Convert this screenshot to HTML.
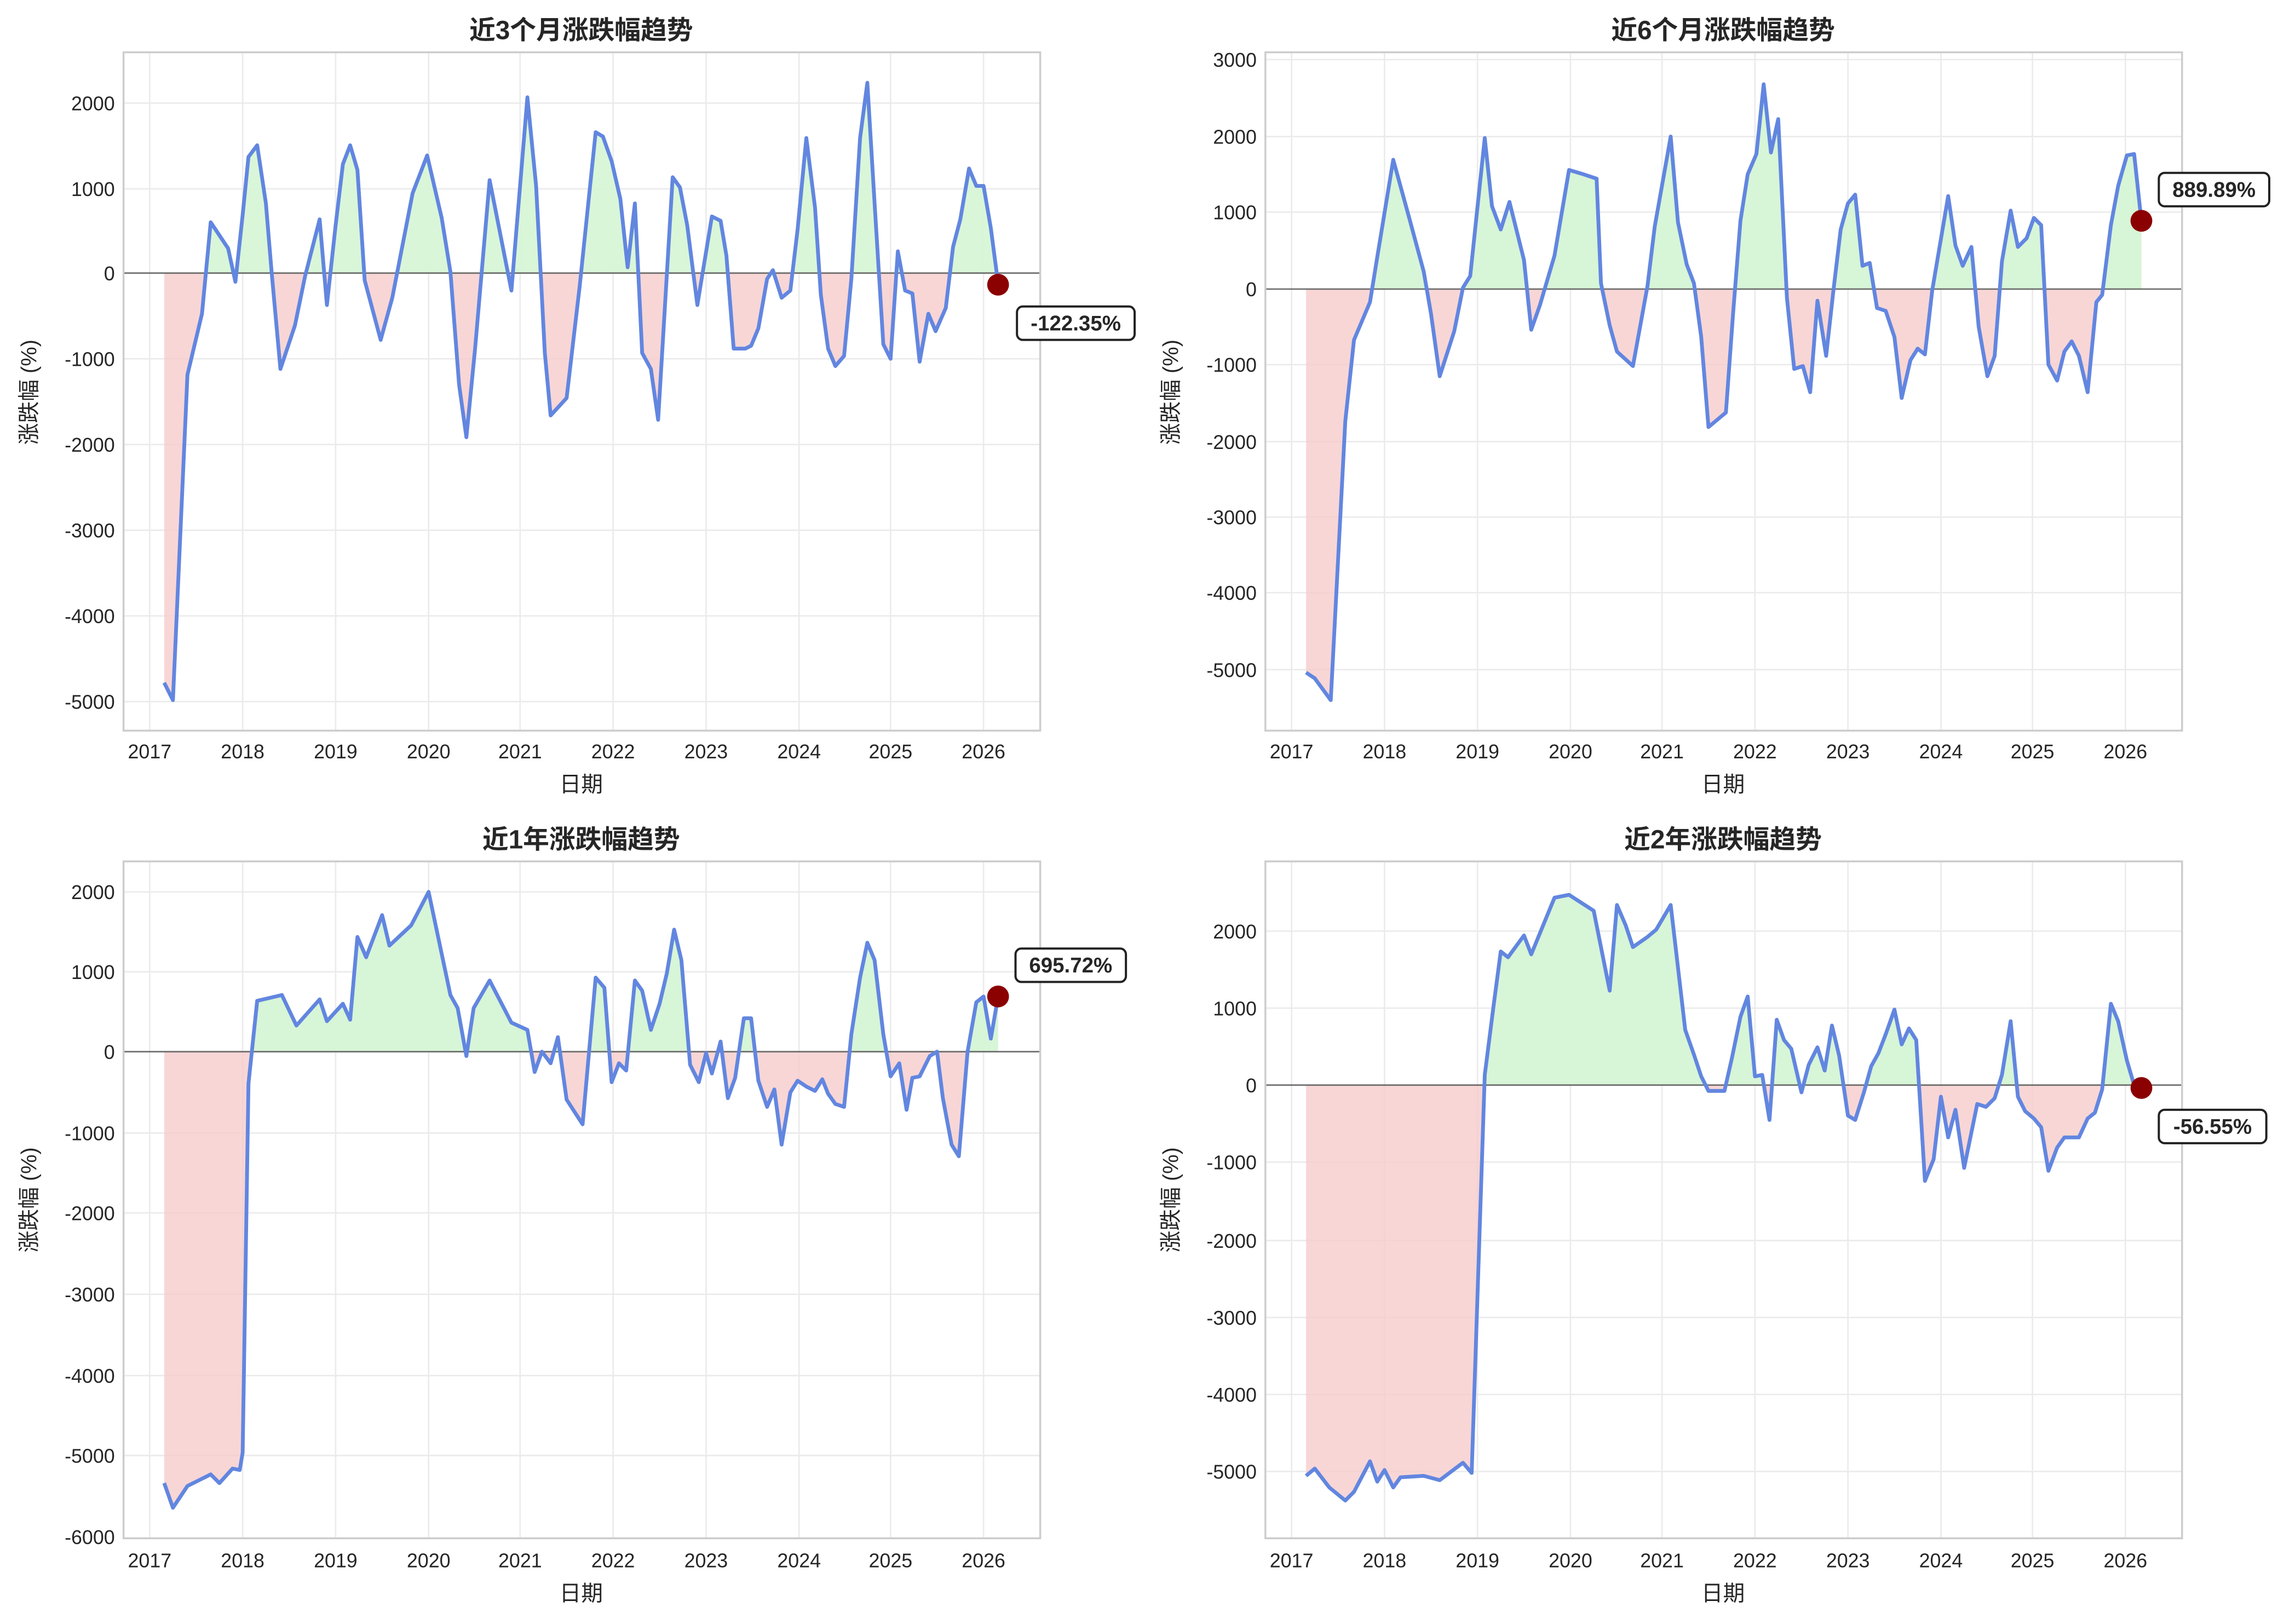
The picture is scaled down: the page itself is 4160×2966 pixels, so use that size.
<!DOCTYPE html>
<html><head><meta charset="utf-8"><style>
html,body{margin:0;padding:0;background:#fff;}
svg{display:block}
text{font-family:"Liberation Sans","Noto Sans CJK SC",sans-serif;fill:#262626}
.t{font-size:13.5px}
.ti{font-size:18px;font-weight:bold}
.lab{font-size:15px}
.g{stroke:#ebebeb;stroke-width:1}
.box{fill:none;stroke:#cccccc;stroke-width:1.3}
.ln{fill:none;stroke:#6286e0;stroke-width:2.6;stroke-linejoin:round}
.z{stroke:#555;stroke-width:1;opacity:.85}
.ann{font-size:14.5px;font-weight:bold}
</style></head><body>
<svg width="4160" height="2966" viewBox="0 0 1568 1118" xmlns="http://www.w3.org/2000/svg">
<rect width="1568" height="1118" fill="#fff"/>
<defs>
<clipPath id="a1"><rect x="85" y="36" width="631" height="152"/></clipPath>
<clipPath id="b1"><rect x="85" y="188" width="631" height="315"/></clipPath>
<clipPath id="a2"><rect x="871" y="36" width="631" height="163"/></clipPath>
<clipPath id="b2"><rect x="871" y="199" width="631" height="304"/></clipPath>
<clipPath id="a3"><rect x="85" y="593" width="631" height="131"/></clipPath>
<clipPath id="b3"><rect x="85" y="724" width="631" height="335"/></clipPath>
<clipPath id="a4"><rect x="871" y="593" width="631" height="154"/></clipPath>
<clipPath id="b4"><rect x="871" y="747" width="631" height="312"/></clipPath>
</defs>

<!-- ================= Panel 1 ================= -->
<g>
<g class="g">
<line x1="103" y1="36" x2="103" y2="503"/><line x1="167" y1="36" x2="167" y2="503"/><line x1="231" y1="36" x2="231" y2="503"/><line x1="295" y1="36" x2="295" y2="503"/><line x1="358" y1="36" x2="358" y2="503"/><line x1="422" y1="36" x2="422" y2="503"/><line x1="486" y1="36" x2="486" y2="503"/><line x1="550" y1="36" x2="550" y2="503"/><line x1="613" y1="36" x2="613" y2="503"/><line x1="677" y1="36" x2="677" y2="503"/>
<line x1="85" y1="71" x2="716" y2="71"/><line x1="85" y1="130" x2="716" y2="130"/><line x1="85" y1="247" x2="716" y2="247"/><line x1="85" y1="306" x2="716" y2="306"/><line x1="85" y1="365" x2="716" y2="365"/><line x1="85" y1="424" x2="716" y2="424"/><line x1="85" y1="483" x2="716" y2="483"/>
</g>
<polygon fill="#d7f5d7" opacity=".95" clip-path="url(#a1)" points="113,470 119,482 129,258 139,216 145,153 157,171 162,194 167,148 171,108 177,100 183,140 187,188 193,254 203,224 210,190 220,151 225,210 231,155 236,113 241,100 246,117 251,193 262,234 270,205 284,133 294,107 304,150 310,187 316,265 321,301 327,240 337,124 352,200 363,67 369,128 375,243 379,286 390,274 399,197 410,91 415,94 421,111 427,137 432,184 437,140 442,243 448,254 453,289 463,122 468,129 473,155 480,210 490,149 496,152 500,176 505,240 513,240 517,238 522,226 528,192 532,186 538,205 544,200 549,158 555,95 561,143 565,203 570,240 575,252 581,245 586,192 592,95 597,57 602,140 608,237 613,247 618,173 623,200 628,202 633,249 639,216 644,228 651,212 656,170 661,151 667,116 672,128 677,128 682,157 687,195 687,188 113,188"/>
<polygon fill="#f6cccc" opacity=".8" clip-path="url(#b1)" points="113,470 119,482 129,258 139,216 145,153 157,171 162,194 167,148 171,108 177,100 183,140 187,188 193,254 203,224 210,190 220,151 225,210 231,155 236,113 241,100 246,117 251,193 262,234 270,205 284,133 294,107 304,150 310,187 316,265 321,301 327,240 337,124 352,200 363,67 369,128 375,243 379,286 390,274 399,197 410,91 415,94 421,111 427,137 432,184 437,140 442,243 448,254 453,289 463,122 468,129 473,155 480,210 490,149 496,152 500,176 505,240 513,240 517,238 522,226 528,192 532,186 538,205 544,200 549,158 555,95 561,143 565,203 570,240 575,252 581,245 586,192 592,95 597,57 602,140 608,237 613,247 618,173 623,200 628,202 633,249 639,216 644,228 651,212 656,170 661,151 667,116 672,128 677,128 682,157 687,195 687,188 113,188"/>
<line class="z" x1="85" y1="188" x2="716" y2="188"/>
<polyline class="ln" points="113,470 119,482 129,258 139,216 145,153 157,171 162,194 167,148 171,108 177,100 183,140 187,188 193,254 203,224 210,190 220,151 225,210 231,155 236,113 241,100 246,117 251,193 262,234 270,205 284,133 294,107 304,150 310,187 316,265 321,301 327,240 337,124 352,200 363,67 369,128 375,243 379,286 390,274 399,197 410,91 415,94 421,111 427,137 432,184 437,140 442,243 448,254 453,289 463,122 468,129 473,155 480,210 490,149 496,152 500,176 505,240 513,240 517,238 522,226 528,192 532,186 538,205 544,200 549,158 555,95 561,143 565,203 570,240 575,252 581,245 586,192 592,95 597,57 602,140 608,237 613,247 618,173 623,200 628,202 633,249 639,216 644,228 651,212 656,170 661,151 667,116 672,128 677,128 682,157 687,195"/>
<rect class="box" x="85" y="36" width="631" height="467"/>
<circle cx="687" cy="196" r="7.5" fill="#8b0000"/>
<rect x="700" y="211" width="81" height="23" rx="4" fill="#fff" stroke="#222" stroke-width="1.5"/>
<text class="ann" x="740.5" y="227.5" text-anchor="middle">-122.35%</text>
<g class="t" text-anchor="end">
<text x="79" y="76">2000</text><text x="79" y="135">1000</text><text x="79" y="193">0</text><text x="79" y="252">-1000</text><text x="79" y="311">-2000</text><text x="79" y="370">-3000</text><text x="79" y="429">-4000</text><text x="79" y="488">-5000</text>
</g>
<g class="t" text-anchor="middle">
<text x="103" y="522">2017</text><text x="167" y="522">2018</text><text x="231" y="522">2019</text><text x="295" y="522">2020</text><text x="358" y="522">2021</text><text x="422" y="522">2022</text><text x="486" y="522">2023</text><text x="550" y="522">2024</text><text x="613" y="522">2025</text><text x="677" y="522">2026</text>
</g>
<text class="ti" x="400" y="27" text-anchor="middle">近3个月涨跌幅趋势</text>
<text class="lab" x="400" y="545" text-anchor="middle">日期</text>
<text class="lab" transform="translate(25,270) rotate(-90)" text-anchor="middle">涨跌幅 (%)</text>
</g>

<!-- ================= Panel 2 ================= -->
<g>
<g class="g">
<line x1="889" y1="36" x2="889" y2="503"/><line x1="953" y1="36" x2="953" y2="503"/><line x1="1017" y1="36" x2="1017" y2="503"/><line x1="1081" y1="36" x2="1081" y2="503"/><line x1="1144" y1="36" x2="1144" y2="503"/><line x1="1208" y1="36" x2="1208" y2="503"/><line x1="1272" y1="36" x2="1272" y2="503"/><line x1="1336" y1="36" x2="1336" y2="503"/><line x1="1399" y1="36" x2="1399" y2="503"/><line x1="1463" y1="36" x2="1463" y2="503"/>
<line x1="871" y1="41" x2="1502" y2="41"/><line x1="871" y1="94" x2="1502" y2="94"/><line x1="871" y1="146" x2="1502" y2="146"/><line x1="871" y1="251" x2="1502" y2="251"/><line x1="871" y1="304" x2="1502" y2="304"/><line x1="871" y1="356" x2="1502" y2="356"/><line x1="871" y1="408" x2="1502" y2="408"/><line x1="871" y1="461" x2="1502" y2="461"/>
</g>
<polygon fill="#d7f5d7" clip-path="url(#a2)" points="899,463 905,467 916,482 926,290 932,234 943,208 948,177 959,110 970,150 980,187 985,216 991,259 1001,228 1007,198 1012,190 1022,95 1027,142 1033,158 1039,139 1049,179 1054,227 1060,210 1070,176 1080,117 1090,120 1099,123 1102,195 1108,224 1113,242 1124,252 1134,197 1139,156 1150,94 1155,153 1161,182 1166,195 1171,232 1176,294 1188,284 1193,215 1198,152 1203,120 1209,106 1214,58 1219,105 1224,82 1230,205 1235,254 1241,252 1246,270 1251,207 1257,245 1262,200 1267,158 1272,140 1277,134 1282,183 1287,181 1292,212 1298,214 1304,232 1309,274 1315,248 1320,240 1325,244 1330,200 1341,135 1346,169 1351,183 1357,170 1362,225 1368,259 1373,245 1378,180 1384,145 1389,170 1395,164 1400,150 1405,155 1410,251 1416,262 1421,242 1426,235 1431,245 1437,270 1443,208 1447,203 1453,155 1458,128 1464,107 1469,106 1474,152 1474,199 899,199"/>
<polygon fill="#f6cccc" opacity=".8" clip-path="url(#b2)" points="899,463 905,467 916,482 926,290 932,234 943,208 948,177 959,110 970,150 980,187 985,216 991,259 1001,228 1007,198 1012,190 1022,95 1027,142 1033,158 1039,139 1049,179 1054,227 1060,210 1070,176 1080,117 1090,120 1099,123 1102,195 1108,224 1113,242 1124,252 1134,197 1139,156 1150,94 1155,153 1161,182 1166,195 1171,232 1176,294 1188,284 1193,215 1198,152 1203,120 1209,106 1214,58 1219,105 1224,82 1230,205 1235,254 1241,252 1246,270 1251,207 1257,245 1262,200 1267,158 1272,140 1277,134 1282,183 1287,181 1292,212 1298,214 1304,232 1309,274 1315,248 1320,240 1325,244 1330,200 1341,135 1346,169 1351,183 1357,170 1362,225 1368,259 1373,245 1378,180 1384,145 1389,170 1395,164 1400,150 1405,155 1410,251 1416,262 1421,242 1426,235 1431,245 1437,270 1443,208 1447,203 1453,155 1458,128 1464,107 1469,106 1474,152 1474,199 899,199"/>
<line class="z" x1="871" y1="199" x2="1502" y2="199"/>
<polyline class="ln" points="899,463 905,467 916,482 926,290 932,234 943,208 948,177 959,110 970,150 980,187 985,216 991,259 1001,228 1007,198 1012,190 1022,95 1027,142 1033,158 1039,139 1049,179 1054,227 1060,210 1070,176 1080,117 1090,120 1099,123 1102,195 1108,224 1113,242 1124,252 1134,197 1139,156 1150,94 1155,153 1161,182 1166,195 1171,232 1176,294 1188,284 1193,215 1198,152 1203,120 1209,106 1214,58 1219,105 1224,82 1230,205 1235,254 1241,252 1246,270 1251,207 1257,245 1262,200 1267,158 1272,140 1277,134 1282,183 1287,181 1292,212 1298,214 1304,232 1309,274 1315,248 1320,240 1325,244 1330,200 1341,135 1346,169 1351,183 1357,170 1362,225 1368,259 1373,245 1378,180 1384,145 1389,170 1395,164 1400,150 1405,155 1410,251 1416,262 1421,242 1426,235 1431,245 1437,270 1443,208 1447,203 1453,155 1458,128 1464,107 1469,106 1474,152"/>
<rect class="box" x="871" y="36" width="631" height="467"/>
<circle cx="1474" cy="152" r="7.5" fill="#8b0000"/>
<rect x="1486" y="119" width="76" height="23" rx="4" fill="#fff" stroke="#222" stroke-width="1.5"/>
<text class="ann" x="1524" y="135.5" text-anchor="middle">889.89%</text>
<g class="t" text-anchor="end">
<text x="865" y="46">3000</text><text x="865" y="99">2000</text><text x="865" y="151">1000</text><text x="865" y="204">0</text><text x="865" y="256">-1000</text><text x="865" y="309">-2000</text><text x="865" y="361">-3000</text><text x="865" y="413">-4000</text><text x="865" y="466">-5000</text>
</g>
<g class="t" text-anchor="middle">
<text x="889" y="522">2017</text><text x="953" y="522">2018</text><text x="1017" y="522">2019</text><text x="1081" y="522">2020</text><text x="1144" y="522">2021</text><text x="1208" y="522">2022</text><text x="1272" y="522">2023</text><text x="1336" y="522">2024</text><text x="1399" y="522">2025</text><text x="1463" y="522">2026</text>
</g>
<text class="ti" x="1186" y="27" text-anchor="middle">近6个月涨跌幅趋势</text>
<text class="lab" x="1186" y="545" text-anchor="middle">日期</text>
<text class="lab" transform="translate(811,270) rotate(-90)" text-anchor="middle">涨跌幅 (%)</text>
</g>

<!-- ================= Panel 3 ================= -->
<g>
<g class="g">
<line x1="103" y1="593" x2="103" y2="1059"/><line x1="167" y1="593" x2="167" y2="1059"/><line x1="231" y1="593" x2="231" y2="1059"/><line x1="295" y1="593" x2="295" y2="1059"/><line x1="358" y1="593" x2="358" y2="1059"/><line x1="422" y1="593" x2="422" y2="1059"/><line x1="486" y1="593" x2="486" y2="1059"/><line x1="550" y1="593" x2="550" y2="1059"/><line x1="613" y1="593" x2="613" y2="1059"/><line x1="677" y1="593" x2="677" y2="1059"/>
<line x1="85" y1="614" x2="716" y2="614"/><line x1="85" y1="669" x2="716" y2="669"/><line x1="85" y1="780" x2="716" y2="780"/><line x1="85" y1="835" x2="716" y2="835"/><line x1="85" y1="891" x2="716" y2="891"/><line x1="85" y1="947" x2="716" y2="947"/><line x1="85" y1="1002" x2="716" y2="1002"/>
</g>
<polygon fill="#d7f5d7" clip-path="url(#a3)" points="113,1021 119,1038 129,1023 139,1018 145,1015 151,1021 160,1011 165,1012 167,1000 171,746 177,689 194,685 204,706 220,688 225,703 236,691 241,702 246,645 252,659 263,630 268,651 283,637 295,614 310,685 315,694 321,727 326,694 337,675 352,704 363,709 368,738 373,724 379,732 384,714 390,757 401,774 410,673 416,680 421,745 426,732 431,737 437,675 442,682 448,709 454,691 459,670 464,640 469,661 475,733 481,745 486,725 490,739 496,717 501,756 506,742 512,701 517,701 522,744 528,762 533,750 538,788 544,752 549,744 555,748 561,751 566,743 570,753 575,760 581,762 586,712 592,673 597,649 602,661 608,712 613,741 619,732 624,764 628,742 633,741 640,727 645,724 649,756 655,788 660,796 666,724 672,690 677,686 682,715 687,686 687,724 113,724"/>
<polygon fill="#f6cccc" opacity=".8" clip-path="url(#b3)" points="113,1021 119,1038 129,1023 139,1018 145,1015 151,1021 160,1011 165,1012 167,1000 171,746 177,689 194,685 204,706 220,688 225,703 236,691 241,702 246,645 252,659 263,630 268,651 283,637 295,614 310,685 315,694 321,727 326,694 337,675 352,704 363,709 368,738 373,724 379,732 384,714 390,757 401,774 410,673 416,680 421,745 426,732 431,737 437,675 442,682 448,709 454,691 459,670 464,640 469,661 475,733 481,745 486,725 490,739 496,717 501,756 506,742 512,701 517,701 522,744 528,762 533,750 538,788 544,752 549,744 555,748 561,751 566,743 570,753 575,760 581,762 586,712 592,673 597,649 602,661 608,712 613,741 619,732 624,764 628,742 633,741 640,727 645,724 649,756 655,788 660,796 666,724 672,690 677,686 682,715 687,686 687,724 113,724"/>
<line class="z" x1="85" y1="724" x2="716" y2="724"/>
<polyline class="ln" points="113,1021 119,1038 129,1023 139,1018 145,1015 151,1021 160,1011 165,1012 167,1000 171,746 177,689 194,685 204,706 220,688 225,703 236,691 241,702 246,645 252,659 263,630 268,651 283,637 295,614 310,685 315,694 321,727 326,694 337,675 352,704 363,709 368,738 373,724 379,732 384,714 390,757 401,774 410,673 416,680 421,745 426,732 431,737 437,675 442,682 448,709 454,691 459,670 464,640 469,661 475,733 481,745 486,725 490,739 496,717 501,756 506,742 512,701 517,701 522,744 528,762 533,750 538,788 544,752 549,744 555,748 561,751 566,743 570,753 575,760 581,762 586,712 592,673 597,649 602,661 608,712 613,741 619,732 624,764 628,742 633,741 640,727 645,724 649,756 655,788 660,796 666,724 672,690 677,686 682,715 687,686"/>
<rect class="box" x="85" y="593" width="631" height="466"/>
<circle cx="687" cy="686" r="7.5" fill="#8b0000"/>
<rect x="699" y="653" width="76" height="23" rx="4" fill="#fff" stroke="#222" stroke-width="1.5"/>
<text class="ann" x="737" y="669.5" text-anchor="middle">695.72%</text>
<g class="t" text-anchor="end">
<text x="79" y="619">2000</text><text x="79" y="674">1000</text><text x="79" y="729">0</text><text x="79" y="785">-1000</text><text x="79" y="840">-2000</text><text x="79" y="896">-3000</text><text x="79" y="952">-4000</text><text x="79" y="1007">-5000</text><text x="79" y="1063">-6000</text>
</g>
<g class="t" text-anchor="middle">
<text x="103" y="1079">2017</text><text x="167" y="1079">2018</text><text x="231" y="1079">2019</text><text x="295" y="1079">2020</text><text x="358" y="1079">2021</text><text x="422" y="1079">2022</text><text x="486" y="1079">2023</text><text x="550" y="1079">2024</text><text x="613" y="1079">2025</text><text x="677" y="1079">2026</text>
</g>
<text class="ti" x="400" y="584" text-anchor="middle">近1年涨跌幅趋势</text>
<text class="lab" x="400" y="1102" text-anchor="middle">日期</text>
<text class="lab" transform="translate(25,826) rotate(-90)" text-anchor="middle">涨跌幅 (%)</text>
</g>

<!-- ================= Panel 4 ================= -->
<g>
<g class="g">
<line x1="889" y1="593" x2="889" y2="1059"/><line x1="953" y1="593" x2="953" y2="1059"/><line x1="1017" y1="593" x2="1017" y2="1059"/><line x1="1081" y1="593" x2="1081" y2="1059"/><line x1="1144" y1="593" x2="1144" y2="1059"/><line x1="1208" y1="593" x2="1208" y2="1059"/><line x1="1272" y1="593" x2="1272" y2="1059"/><line x1="1336" y1="593" x2="1336" y2="1059"/><line x1="1399" y1="593" x2="1399" y2="1059"/><line x1="1463" y1="593" x2="1463" y2="1059"/>
<line x1="871" y1="641" x2="1502" y2="641"/><line x1="871" y1="694" x2="1502" y2="694"/><line x1="871" y1="800" x2="1502" y2="800"/><line x1="871" y1="854" x2="1502" y2="854"/><line x1="871" y1="907" x2="1502" y2="907"/><line x1="871" y1="960" x2="1502" y2="960"/><line x1="871" y1="1013" x2="1502" y2="1013"/>
</g>
<polygon fill="#d7f5d7" clip-path="url(#a4)" points="899,1016 905,1011 915,1024 926,1033 932,1027 943,1006 948,1020 953,1012 959,1024 964,1017 980,1016 991,1019 1007,1007 1013,1014 1022,740 1028,693 1033,655 1038,659 1049,644 1054,657 1070,618 1080,616 1097,627 1103,657 1108,682 1113,623 1119,637 1124,652 1134,645 1140,640 1150,623 1160,709 1166,726 1171,741 1176,751 1187,751 1192,729 1198,700 1203,686 1208,741 1213,740 1218,771 1223,702 1228,716 1233,722 1240,752 1245,733 1251,721 1256,737 1261,706 1266,727 1272,768 1277,771 1283,752 1288,734 1293,725 1298,712 1304,695 1309,719 1314,708 1319,716 1325,813 1331,798 1336,755 1341,783 1346,764 1352,804 1361,760 1367,762 1373,756 1378,740 1384,703 1389,755 1394,765 1400,770 1405,776 1410,806 1416,790 1421,783 1426,783 1431,783 1437,770 1442,766 1447,750 1453,691 1458,703 1464,730 1469,747 1474,750 1474,747 899,747"/>
<polygon fill="#f6cccc" opacity=".8" clip-path="url(#b4)" points="899,1016 905,1011 915,1024 926,1033 932,1027 943,1006 948,1020 953,1012 959,1024 964,1017 980,1016 991,1019 1007,1007 1013,1014 1022,740 1028,693 1033,655 1038,659 1049,644 1054,657 1070,618 1080,616 1097,627 1103,657 1108,682 1113,623 1119,637 1124,652 1134,645 1140,640 1150,623 1160,709 1166,726 1171,741 1176,751 1187,751 1192,729 1198,700 1203,686 1208,741 1213,740 1218,771 1223,702 1228,716 1233,722 1240,752 1245,733 1251,721 1256,737 1261,706 1266,727 1272,768 1277,771 1283,752 1288,734 1293,725 1298,712 1304,695 1309,719 1314,708 1319,716 1325,813 1331,798 1336,755 1341,783 1346,764 1352,804 1361,760 1367,762 1373,756 1378,740 1384,703 1389,755 1394,765 1400,770 1405,776 1410,806 1416,790 1421,783 1426,783 1431,783 1437,770 1442,766 1447,750 1453,691 1458,703 1464,730 1469,747 1474,750 1474,747 899,747"/>
<line class="z" x1="871" y1="747" x2="1502" y2="747"/>
<polyline class="ln" points="899,1016 905,1011 915,1024 926,1033 932,1027 943,1006 948,1020 953,1012 959,1024 964,1017 980,1016 991,1019 1007,1007 1013,1014 1022,740 1028,693 1033,655 1038,659 1049,644 1054,657 1070,618 1080,616 1097,627 1103,657 1108,682 1113,623 1119,637 1124,652 1134,645 1140,640 1150,623 1160,709 1166,726 1171,741 1176,751 1187,751 1192,729 1198,700 1203,686 1208,741 1213,740 1218,771 1223,702 1228,716 1233,722 1240,752 1245,733 1251,721 1256,737 1261,706 1266,727 1272,768 1277,771 1283,752 1288,734 1293,725 1298,712 1304,695 1309,719 1314,708 1319,716 1325,813 1331,798 1336,755 1341,783 1346,764 1352,804 1361,760 1367,762 1373,756 1378,740 1384,703 1389,755 1394,765 1400,770 1405,776 1410,806 1416,790 1421,783 1426,783 1431,783 1437,770 1442,766 1447,750 1453,691 1458,703 1464,730 1469,747 1474,750"/>
<rect class="box" x="871" y="593" width="631" height="466"/>
<circle cx="1474" cy="749" r="7.5" fill="#8b0000"/>
<rect x="1486" y="764" width="74" height="23" rx="4" fill="#fff" stroke="#222" stroke-width="1.5"/>
<text class="ann" x="1523" y="780.5" text-anchor="middle">-56.55%</text>
<g class="t" text-anchor="end">
<text x="865" y="646">2000</text><text x="865" y="699">1000</text><text x="865" y="752">0</text><text x="865" y="805">-1000</text><text x="865" y="859">-2000</text><text x="865" y="912">-3000</text><text x="865" y="965">-4000</text><text x="865" y="1018">-5000</text>
</g>
<g class="t" text-anchor="middle">
<text x="889" y="1079">2017</text><text x="953" y="1079">2018</text><text x="1017" y="1079">2019</text><text x="1081" y="1079">2020</text><text x="1144" y="1079">2021</text><text x="1208" y="1079">2022</text><text x="1272" y="1079">2023</text><text x="1336" y="1079">2024</text><text x="1399" y="1079">2025</text><text x="1463" y="1079">2026</text>
</g>
<text class="ti" x="1186" y="584" text-anchor="middle">近2年涨跌幅趋势</text>
<text class="lab" x="1186" y="1102" text-anchor="middle">日期</text>
<text class="lab" transform="translate(811,826) rotate(-90)" text-anchor="middle">涨跌幅 (%)</text>
</g>
</svg>
</body></html>
